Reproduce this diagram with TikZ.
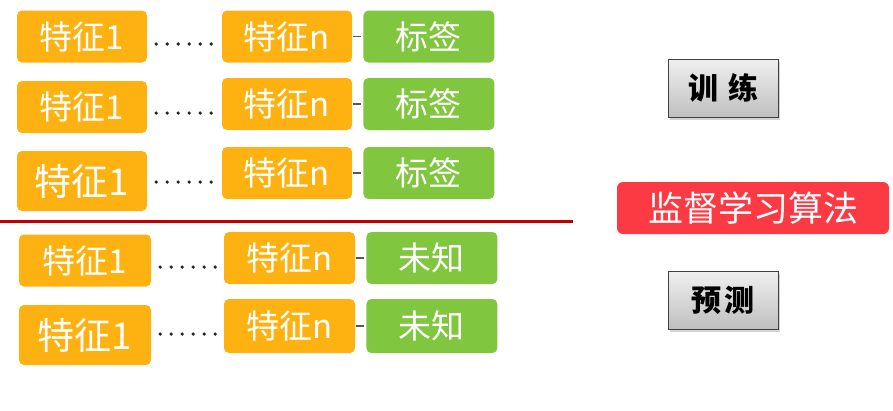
\documentclass[tikz,border=0pt]{standalone}
\usepackage{fontspec}
\setmainfont{Noto Sans CJK SC}
\usetikzlibrary{positioning,shadows}
\definecolor{featorange}{RGB}{253,178,17}
\definecolor{labgreen}{RGB}{128,198,62}
\definecolor{algred}{RGB}{252,58,68}
\definecolor{sepred}{RGB}{192,0,0}
\tikzset{
  feat/.style={fill=featorange, rounded corners=5pt, text=white,
    minimum width=130pt, minimum height=52pt, inner sep=0pt,
    font=\fontsize{33}{35}\selectfont},
  featbig/.style={feat, minimum height=60pt, font=\fontsize{37}{39}\selectfont},
  lab/.style={feat, fill=labgreen, minimum width=131pt},
  alg/.style={fill=algred, rounded corners=6pt, text=white,
    minimum width=272pt, minimum height=52pt, inner sep=0pt,
    font=\fontsize{35}{37}\selectfont},
  phase/.style={draw=black!75, line width=0.8pt, top color=gray!12, bottom color=gray!50,
    drop shadow={shadow xshift=1.5pt, shadow yshift=-2.5pt, opacity=0.35},
    minimum width=110pt, minimum height=58pt, inner sep=0pt,
    font=\bfseries\fontsize{30}{32}\selectfont},
  dotline/.style={line width=3.6pt, line cap=round, dash pattern=on 0pt off 11pt, black!85,
    shorten <=9pt, shorten >=6.5pt},
  link/.style={black!65, line width=1.4pt, shorten <=1pt, shorten >=2pt},
  sepline/.style={sepred, line width=3.5pt}
}

\begin{document}
\begin{tikzpicture}[x=1pt, y=-1pt, node distance=11pt]
  \useasboundingbox (0,0) rectangle (893,410);

  % training rows
  \node[feat] (fa1) at (82,36.5) {特征1};
  \node[feat] (fan) at (287,36.5) {特征n};
  \node[lab, right=of fan] (la) {标签};
  \node[feat] (fb1) at (82,107) {特征1};
  \node[feat] (fbn) at (287,104) {特征n};
  \node[lab, right=of fbn] (lb) {标签};
  \node[featbig] (fc1) at (82,181) {特征1};
  \node[feat] (fcn) at (287,173) {特征n};
  \node[lab, right=of fcn] (lc) {标签};
  \draw[dotline] ([yshift=-7.5pt]fan.west -| fa1.east) -- ([yshift=-7.5pt]fan.west);
  \draw[dotline] ([yshift=-9pt]fbn.west -| fb1.east) -- ([yshift=-9pt]fbn.west);
  \draw[dotline] ([yshift=-9pt]fcn.west -| fc1.east) -- ([yshift=-9pt]fcn.west);
  \draw[link] (fan) -- (la);
  \draw[link] (fbn) -- (lb);
  \draw[link] (fcn) -- (lc);

  \draw[sepline] (0,221.7) -- (573,221.7);

  % prediction rows
  \node[feat, minimum width=132pt] (fd1) at (85,260.5) {特征1};
  \node[feat, minimum width=131pt] (fdn) at (289.5,258) {特征n};
  \node[lab, right=of fdn] (ld) {未知};
  \node[featbig, minimum width=132pt] (fe1) at (85,335) {特征1};
  \node[feat, minimum width=131pt, minimum height=54pt] (fen) at (289.5,326) {特征n};
  \node[lab, minimum height=54pt, right=of fen] (le) {未知};
  \draw[dotline] ([yshift=-9pt]fdn.west -| fd1.east) -- ([yshift=-9pt]fdn.west);
  \draw[dotline] ([yshift=-8pt]fen.west -| fe1.east) -- ([yshift=-8pt]fen.west);
  \draw[link] (fdn) -- (ld);
  \draw[link] (fen) -- (le);

  % right side
  \node[phase] (train) at (723,88) {训\hspace{10pt}练};
  \node[alg] (algo) at (753,208) {监督学习算法};
  \node[phase] (pred) at (723,300) {预\hspace{3pt}测};
\end{tikzpicture}
\end{document}
